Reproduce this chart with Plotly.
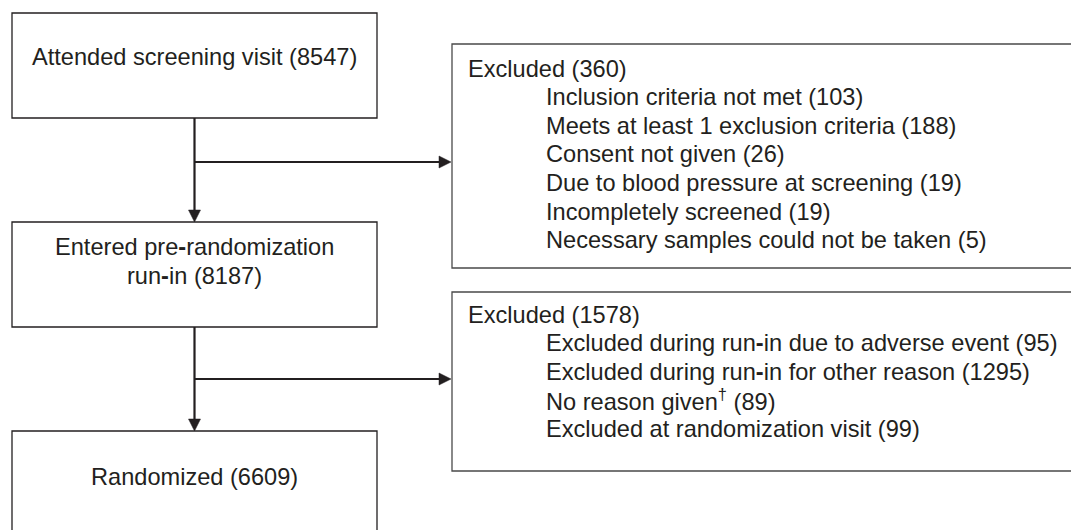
import plotly.graph_objects as go

# ---- data ----
main_labels = [["Attended screening visit"],
               ["Entered pre<b>-</b>randomization", "run<b>-</b>in"],
               ["Randomized"]]
main_counts = [8547, 8187, 6609]

excl_totals = [360, 1578]
excl1_reasons = ["Inclusion criteria not met", "Meets at least 1 exclusion criteria",
                 "Consent not given", "Due to blood pressure at screening",
                 "Incompletely screened", "Necessary samples could not be taken"]
excl1_counts = [103, 188, 26, 19, 19, 5]
excl2_reasons = ["Excluded during run<b>-</b>in due to adverse event",
                 "Excluded during run<b>-</b>in for other reason",
                 "No reason given<sup>†</sup>", "Excluded at randomization visit"]
excl2_counts = [95, 1295, 89, 99]

# ---- layout geometry (page pixel coordinates) ----
W, H = 1071, 530
INK = "#231f20"
FONT = "Liberation Sans, Arial, Helvetica, sans-serif"
FS = 23.6

main_boxes = [(12, 13, 377, 118), (12, 222, 377, 327), (12, 431, 377, 560)]
main_text_y = [[56.5], [247, 275.5], [476.5]]
side_boxes = [(452, 44, 1100, 268), (452, 292, 1100, 471)]
side_first_y = [68.5, 314.5]
line_step = 28.6
head_x, indent_x = 466, 544
vx = 194.5
branch_y = [162, 379]

fig = go.Figure()
shapes = []
ann = []

for (x0, y0, x1, y1) in main_boxes:
    shapes.append(dict(type="rect", xref="x", yref="y", x0=x0, y0=y0, x1=x1, y1=y1,
                       line=dict(color=INK, width=1.3), fillcolor="rgba(0,0,0,0)"))
for (x0, y0, x1, y1) in side_boxes:
    shapes.append(dict(type="rect", xref="x", yref="y", x0=x0, y0=y0, x1=x1, y1=y1,
                       line=dict(color="#4a4a4a", width=1.3), fillcolor="rgba(0,0,0,0)"))

ah_len, ah_half = 12, 6
for i in range(2):
    ytop = main_boxes[i][3]
    ybot = main_boxes[i + 1][1]
    shapes.append(dict(type="line", xref="x", yref="y", x0=vx, y0=ytop, x1=vx, y1=ybot - ah_len + 1,
                       line=dict(color=INK, width=2.2)))
    shapes.append(dict(type="path", xref="x", yref="y",
                       path=f"M {vx-ah_half},{ybot-ah_len} L {vx+ah_half},{ybot-ah_len} L {vx},{ybot} Z",
                       fillcolor=INK, line=dict(color=INK, width=0.5)))
    by = branch_y[i]
    xt = side_boxes[i][0] - 1
    shapes.append(dict(type="line", xref="x", yref="y", x0=vx, y0=by, x1=xt - ah_len + 1, y1=by,
                       line=dict(color=INK, width=2.0)))
    shapes.append(dict(type="path", xref="x", yref="y",
                       path=f"M {xt-ah_len},{by-ah_half} L {xt-ah_len},{by+ah_half} L {xt},{by} Z",
                       fillcolor=INK, line=dict(color=INK, width=0.5)))

for lines, cnt, ys in zip(main_labels, main_counts, main_text_y):
    for k, (ln, ty) in enumerate(zip(lines, ys)):
        txt = f"{ln} ({cnt})" if k == len(lines) - 1 else ln
        ann.append(dict(x=vx, y=ty, xref="x", yref="y", text=txt, showarrow=False,
                        xanchor="center", yanchor="middle", align="center",
                        font=dict(family=FONT, size=FS, color=INK)))

for i, (tot, reasons, counts) in enumerate([(excl_totals[0], excl1_reasons, excl1_counts),
                                           (excl_totals[1], excl2_reasons, excl2_counts)]):
    y = side_first_y[i]
    ann.append(dict(x=head_x, y=y, xref="x", yref="y", text=f"Excluded ({tot})", showarrow=False,
                    xanchor="left", yanchor="middle", font=dict(family=FONT, size=FS, color=INK)))
    for j, (r, c) in enumerate(zip(reasons, counts)):
        ann.append(dict(x=indent_x, y=y + (j + 1) * line_step, xref="x", yref="y", text=f"{r} ({c})",
                        showarrow=False, xanchor="left", yanchor="middle",
                        font=dict(family=FONT, size=FS, color=INK)))

fig.update_layout(
    width=W, height=H, margin=dict(l=0, r=0, t=0, b=0),
    paper_bgcolor="white", plot_bgcolor="white",
    xaxis=dict(range=[0, W], visible=False, fixedrange=True),
    yaxis=dict(range=[H, 0], visible=False, fixedrange=True),
    shapes=shapes, annotations=ann, showlegend=False,
)
fig.write_html("out.html", config={"displayModeBar": False},
               post_script="document.body.style.margin='0px';document.body.style.overflow='hidden';")
